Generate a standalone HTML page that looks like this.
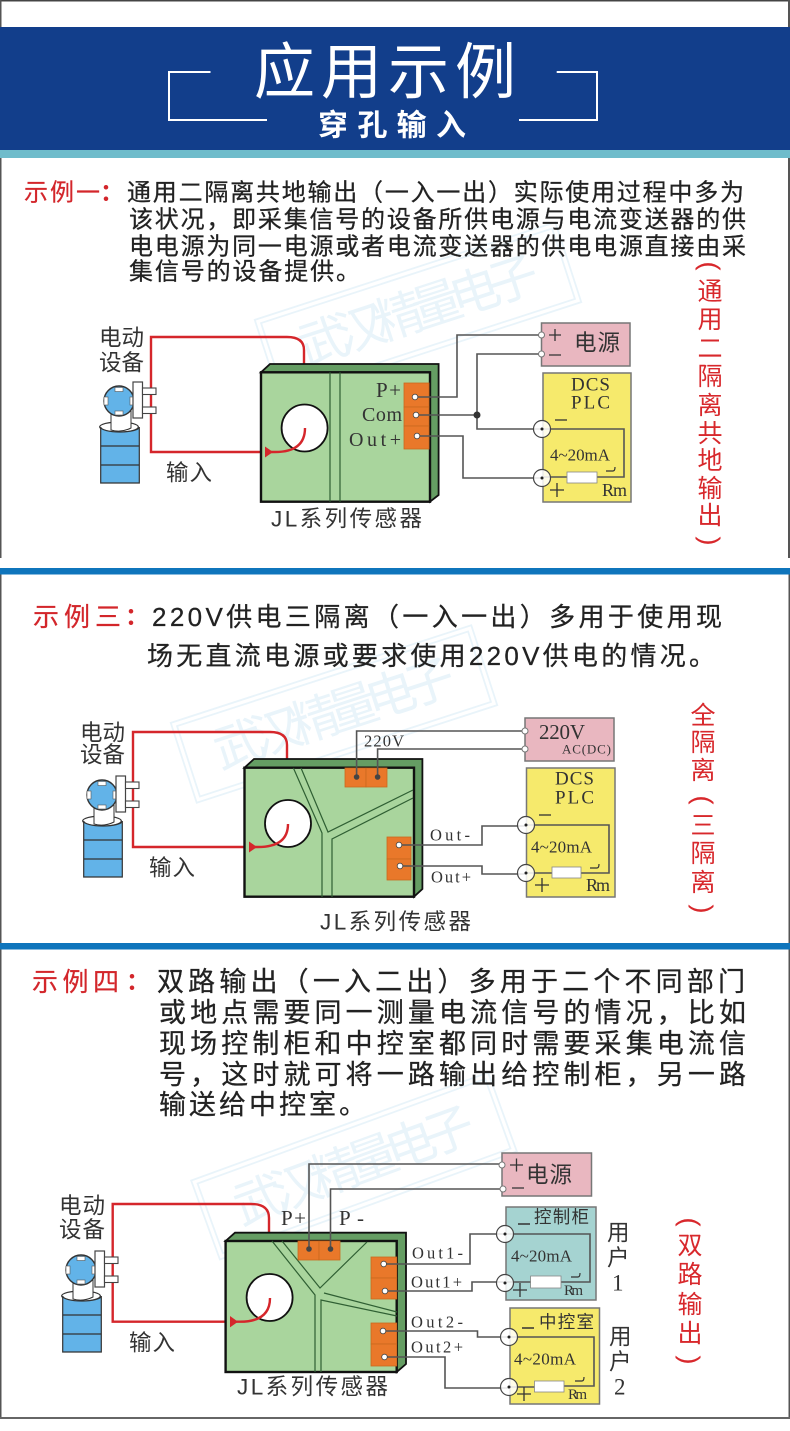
<!DOCTYPE html>
<html><head><meta charset="utf-8"><style>
html,body{margin:0;padding:0;background:#fff}
svg{display:block}
text{font-family:"Liberation Sans","Noto Sans CJK SC",sans-serif;dominant-baseline:central}
.b{fill:#222;stroke:#222;stroke-width:.25;font-size:24px}
.b2{fill:#222;stroke:#222;stroke-width:.25;font-size:26px}
.b3{fill:#222;stroke:#222;stroke-width:.25;font-size:27px}
.r{fill:#d3262b;stroke:#d3262b;stroke-width:.2;font-size:24px}
.r2{fill:#d3262b;stroke:#d3262b;stroke-width:.2;font-size:26px}
.co{fill:#d3262b;font-weight:bold;font-size:24px}
.v{fill:#d8282c;font-size:25px;text-anchor:middle}
.p{fill:#d8282c;font-size:27px;text-anchor:middle;font-family:"Liberation Sans",sans-serif}
.l{fill:#333;font-size:22.5px}
.s{fill:#333;font-family:"Liberation Serif","Noto Sans CJK SC",serif;font-size:19px}
.m{fill:#333;font-family:"Liberation Serif",serif;font-size:17px}
.rm{fill:#333;font-family:"Liberation Serif",serif;font-size:18px}
.x{fill:#333;font-family:"Liberation Serif",serif;font-size:16.500px}
.wm{fill:#e9f4fa;font-size:50px;text-anchor:middle}
.w{fill:none;stroke:#555;stroke-width:1.6}
.red{fill:none;stroke:#d5262b;stroke-width:2.4}
.g{fill:none;stroke:#2f5f33;stroke-width:1.2}
.o{fill:#e9782a;stroke:#c9691f;stroke-width:.8}
.f{fill:#a9d59d;stroke:#111;stroke-width:2.4}
.t{fill:#659d63;stroke:#111;stroke-width:1.8}
.c{fill:#fff;fill-opacity:.85;stroke:#444;stroke-width:1.2}
.box{stroke:#777;stroke-width:1.5}
.frame{fill:none;stroke:#e9f4fa;stroke-width:1.8}
</style></head><body>
<svg width="790" height="1431" viewBox="0 0 790 1431" xmlns="http://www.w3.org/2000/svg">
<defs>
<g id="dev">
<ellipse cx="119" cy="427" rx="19.3" ry="5" fill="#fff" stroke="#333" stroke-width="1.2"/>
<path d="M100.7 427A19.3 5 0 0 0 139.3 427V483H100.7Z" fill="#62b3e8" stroke="#333" stroke-width="1.2"/>
<path d="M100.7 446H139.3M100.7 465H139.3" stroke="#333" stroke-width="1.2"/>
<path d="M111 410H131V428Q121 433 111 430Z" fill="#fff" stroke="#333" stroke-width="1"/>
<circle cx="119" cy="401" r="15" fill="#62b3e8" stroke="#333" stroke-width="1.4"/>
<rect x="115" y="387.500" width="8" height="4" fill="#fff" stroke="#555" stroke-width=".6"/>
<rect x="115" y="411" width="8" height="4" fill="#fff" stroke="#555" stroke-width=".6"/>
<rect x="104" y="397" width="4" height="8" fill="#fff" stroke="#555" stroke-width=".6"/>
<rect x="130" y="397" width="4" height="8" fill="#fff" stroke="#555" stroke-width=".6"/>
<rect x="133" y="382" width="9.500" height="36" fill="#fff" stroke="#444" stroke-width="1.2"/>
<rect x="142.500" y="388" width="13.500" height="6.500" fill="#fff" stroke="#444" stroke-width="1.1"/>
<rect x="142.500" y="407" width="13.500" height="6.500" fill="#fff" stroke="#444" stroke-width="1.1"/>
</g>
</defs>

<rect width="790" height="1431" fill="#fff"/>

<!-- watermarks -->
<g transform="translate(418 311) rotate(-18)"><rect x="-158" y="-42" width="316" height="84" class="frame"/><rect x="-153" y="-37" width="306" height="74" class="frame"/><text class="wm" x="0" y="0" textLength="250">武汉精量电子</text></g>
<g transform="translate(334 714) rotate(-18)"><rect x="-158" y="-42" width="316" height="84" class="frame"/><rect x="-153" y="-37" width="306" height="74" class="frame"/><text class="wm" x="0" y="0" textLength="250">武汉精量电子</text></g>
<g transform="translate(354 1166) rotate(-20)"><rect x="-158" y="-42" width="316" height="84" class="frame"/><rect x="-153" y="-37" width="306" height="74" class="frame"/><text class="wm" x="0" y="0" textLength="252">武汉精量电子</text></g>

<!-- page borders -->
<rect x="0" y="0" width="790" height="1.500" fill="#444"/>
<rect x="0" y="0" width="1.500" height="558" fill="#555"/>
<rect x="788" y="0" width="2" height="558" fill="#555"/>
<rect x="0" y="574" width="1.500" height="845" fill="#555"/>
<rect x="788.500" y="574" width="1.500" height="845" fill="#555"/>
<rect x="0" y="1417" width="790" height="2" fill="#666"/>

<!-- header -->
<rect x="0" y="27" width="790" height="123" fill="#123e8b"/>
<rect x="0" y="150" width="790" height="8" fill="#6fbccb"/>
<path d="M210.500 72H169V120H267M556.700 72H597V120H519" fill="none" stroke="#fff" stroke-width="2"/>
<text x="254" y="72" font-size="61" fill="#fff" textLength="262">应用示例</text>
<text x="318" y="126" font-size="30" font-weight="bold" fill="#fff" textLength="148">穿孔输入</text>

<!-- dividers -->
<rect x="0" y="568" width="790" height="6.500" fill="#0f75bc"/>
<rect x="0" y="943" width="790" height="6.500" fill="#0f75bc"/>

<!-- section 1 text -->
<text class="r" x="24" y="193" textLength="76">示例一</text><text class="co" x="100" y="193">：</text>
<text class="b" x="127" y="193" textLength="617">通用二隔离共地输出（一入一出）实际使用过程中多为</text>
<text class="b" x="129" y="220" textLength="617">该状况，即采集信号的设备所供电源与电流变送器的供</text>
<text class="b" x="129" y="247" textLength="617">电电源为同一电源或者电流变送器的供电电源直接由采</text>
<text class="b" x="129" y="272" textLength="231">集信号的设备提供。</text>

<text class="p" x="710" y="266" transform="rotate(90 710 266)">(</text><text class="v" x="710" y="292">通</text><text class="v" x="710" y="320">用</text><text class="v" x="710" y="349">二</text><text class="v" x="710" y="377">隔</text><text class="v" x="710" y="406">离</text><text class="v" x="710" y="434">共</text><text class="v" x="710" y="461">地</text><text class="v" x="710" y="489">输</text><text class="v" x="710" y="516">出</text><text class="p" x="710" y="541" transform="rotate(90 710 541)">)</text>

<!-- diagram 1 -->
<path class="red" d="M304 364V350Q304 337 287 337H151V452H268"/>
<use href="#dev"/>
<rect class="box" x="541.500" y="323" width="88.500" height="43" fill="#e9b7c0"/>
<rect class="box" x="543" y="373" width="88" height="129" fill="#f6ea6c"/>
<path class="t" d="M261 372.300L270 364H438.600V495L430 501.700V372.300Z"/>
<rect class="f" x="261" y="372.300" width="169" height="129.400"/>
<path class="g" d="M330 372.300V501.700M340 372.300V501.700"/>
<ellipse cx="304.600" cy="428" rx="23" ry="23.500" fill="#fff" stroke="#111" stroke-width="1.8"/>
<path class="red" d="M268 452H275Q305 452 305 428"/>
<path d="M273 452L265 446.500V457.500Z" fill="#d5262b"/>
<rect class="o" x="404" y="383" width="25" height="24"/><rect class="o" x="404" y="407" width="25" height="19"/><rect class="o" x="404" y="426" width="25" height="23"/>
<path class="w" d="M415 397H457V335H541.500M416 415H477M477 415V354H541.500M477 415V429H542M417 436H463V478H542"/>
<path class="w" d="M542 429H624V477H597M567 477H542"/>
<circle cx="477" cy="415" r="3.500" fill="#333"/>
<circle cx="415" cy="397" r="2.800" fill="#fff" stroke="#444" stroke-width=".8"/><circle cx="416" cy="415" r="2.800" fill="#fff" stroke="#444" stroke-width=".8"/><circle cx="417" cy="436" r="2.800" fill="#fff" stroke="#444" stroke-width=".8"/>
<circle cx="541.500" cy="335" r="3" fill="#fff" stroke="#777"/><circle cx="541.500" cy="354" r="3" fill="#fff" stroke="#777"/>
<ellipse class="c" cx="542" cy="429" rx="8.500" ry="8.500"/><ellipse class="c" cx="542" cy="478" rx="8.500" ry="8.500"/><circle cx="542" cy="429" r="1.500" fill="#222"/><circle cx="542" cy="478" r="1.500" fill="#222"/>
<rect x="567" y="472" width="30" height="11" fill="#fff" stroke="#888" stroke-width=".8"/>
<path d="M606 471H613Q615 471 615 467" fill="none" stroke="#333" stroke-width="1.200"/>
<text class="l" x="99" y="338" textLength="45">电动</text><text class="l" x="99" y="363" textLength="45">设备</text>
<text class="l" x="166" y="473" textLength="46">输入</text>
<text class="l" x="271" y="519" textLength="151">JL系列传感器</text>
<text class="s" x="376" y="390" textLength="25" style="font-size:21px">P+</text><text class="s" x="362" y="415" textLength="40" style="font-size:20px">Com</text><text class="s" x="349" y="440" textLength="52" style="font-size:20px">Out+</text>
<text class="l" x="574" y="343" textLength="46">电源</text>
<path d="M549 335H561M555 329V341M549 355H561" stroke="#333" stroke-width="1.300"/>
<text class="s" x="571" y="385" textLength="39">DCS</text><text class="s" x="571" y="403" textLength="39">PLC</text>
<path d="M555 420H567" stroke="#333" stroke-width="1.300"/>
<text class="m" x="550" y="455" textLength="60">4~20mA</text>
<path d="M550 490H564M557 483V497" stroke="#333" stroke-width="1.300"/>
<text class="rm" x="602" y="490" textLength="25">Rm</text>

<!-- section 2 text -->
<text class="r2" x="33" y="617" textLength="88">示例三</text><text class="co" x="125" y="617">：</text>
<text class="b2" x="152" y="617" textLength="570">220V供电三隔离（一入一出）多用于使用现</text>
<text class="b2" x="147" y="656" textLength="568">场无直流电源或要求使用220V供电的情况。</text>

<text class="v" x="703" y="716">全</text><text class="v" x="703" y="743">隔</text><text class="v" x="703" y="771">离</text><text class="p" x="703" y="800" transform="rotate(90 703 800)">(</text><text class="v" x="703" y="826">三</text><text class="v" x="703" y="854">隔</text><text class="v" x="703" y="883">离</text><text class="p" x="703" y="909" transform="rotate(90 703 909)">)</text>

<!-- diagram 2 -->
<path class="red" d="M287 759V745Q287 732 270 732H133V847H250"/>
<use href="#dev" transform="translate(-17 394)"/>
<rect class="box" x="525" y="718" width="89" height="43" fill="#e9b7c0"/>
<rect class="box" x="526.500" y="768" width="88.500" height="129" fill="#f6ea6c"/>
<path class="t" d="M244.500 767.700L254 759H422.400V889L414 896.700V767.700Z"/>
<rect class="f" x="244.500" y="767.700" width="169.500" height="129"/>
<path class="g" d="M293.400 768L322 833V897M301 768L328 832L413 790M332 897V839L413 798"/>
<ellipse cx="288" cy="823.500" rx="23" ry="23.500" fill="#fff" stroke="#111" stroke-width="1.8"/>
<path class="red" d="M250 847H258Q288 847 288 824"/>
<path d="M257 847L249 841.500V852.500Z" fill="#d5262b"/>
<rect class="o" x="345" y="768" width="21" height="19"/><rect class="o" x="366" y="768" width="21" height="19"/>
<rect class="o" x="387" y="837" width="24" height="22"/><rect class="o" x="387" y="859" width="24" height="21"/>
<path class="w" d="M356.600 777V731H525M377.600 777V749H525M399 845H482V826H526M400 866H482V874H526"/>
<path class="w" d="M526 825H609V873H581M552 873H526"/>
<circle cx="356.600" cy="777" r="2.800" fill="#444"/><circle cx="377.600" cy="777" r="2.800" fill="#444"/>
<circle cx="399" cy="845" r="2.800" fill="#fff" stroke="#444" stroke-width=".8"/><circle cx="400" cy="866" r="2.800" fill="#fff" stroke="#444" stroke-width=".8"/>
<circle cx="525" cy="731" r="3" fill="#fff" stroke="#777"/><circle cx="525" cy="749" r="3" fill="#fff" stroke="#777"/>
<ellipse class="c" cx="526" cy="825" rx="8.500" ry="8.500"/><ellipse class="c" cx="526" cy="873" rx="8.500" ry="8.500"/><circle cx="526" cy="825" r="1.500" fill="#222"/><circle cx="526" cy="873" r="1.500" fill="#222"/>
<rect x="552" y="867" width="29" height="11" fill="#fff" stroke="#888" stroke-width=".8"/>
<path d="M590 868H597Q599 868 599 864" fill="none" stroke="#333" stroke-width="1.200"/>
<text class="l" x="80" y="733" textLength="45">电动</text><text class="l" x="80" y="755" textLength="45">设备</text>
<text class="l" x="149" y="868" textLength="46">输入</text>
<text class="l" x="320" y="922" textLength="151">JL系列传感器</text>
<text class="x" x="364" y="741" textLength="40">220V</text>
<text class="s" x="539" y="732" textLength="46" style="font-size:21px">220V</text>
<text class="x" x="562" y="749" textLength="49" style="font-size:13px">AC(DC)</text>
<text class="x" x="430" y="835" textLength="40">Out-</text><text class="x" x="431" y="877" textLength="40">Out+</text>
<text class="s" x="555" y="779" textLength="39">DCS</text><text class="s" x="555" y="798" textLength="39">PLC</text>
<path d="M539 815H551" stroke="#333" stroke-width="1.300"/>
<text class="m" x="531" y="847" textLength="61">4~20mA</text>
<path d="M535 885H549M542 878V892" stroke="#333" stroke-width="1.300"/>
<text class="rm" x="586" y="885" textLength="24">Rm</text>

<!-- section 3 text -->
<text class="r2" x="32" y="982" textLength="87">示例四</text><text class="co" x="126" y="982">：</text>
<text class="b3" x="157" y="982" textLength="588">双路输出（一入二出）多用于二个不同部门</text>
<text class="b3" x="159" y="1013" textLength="587">或地点需要同一测量电流信号的情况，比如</text>
<text class="b3" x="159" y="1044" textLength="587">现场控制柜和中控室都同时需要采集电流信</text>
<text class="b3" x="159" y="1075" textLength="587">号，这时就可将一路输出给控制柜，另一路</text>
<text class="b3" x="159" y="1105" textLength="207">输送给中控室。</text>

<text class="p" x="690" y="1222" transform="rotate(90 690 1222)">(</text><text class="v" x="690" y="1246">双</text><text class="v" x="690" y="1275">路</text><text class="v" x="690" y="1305">输</text><text class="v" x="690" y="1334">出</text><text class="p" x="690" y="1360" transform="rotate(90 690 1360)">)</text>

<!-- diagram 3 -->
<path class="red" d="M269 1233V1218Q269 1204 251 1204H112.700V1321.700H231"/>
<use href="#dev" transform="translate(-38 869)"/>
<rect class="box" x="502" y="1153" width="89.500" height="43" fill="#e9b7c0"/>
<rect class="box" x="506" y="1207" width="90" height="93" fill="#a5d3d1"/>
<rect class="box" x="510" y="1308" width="89.500" height="96" fill="#f6ea6c"/>
<path class="t" d="M225.600 1241L235 1232.700H406V1364L396.700 1372V1241Z"/>
<rect class="f" x="225.600" y="1241" width="171.100" height="131"/>
<path class="g" d="M272 1241L315 1295V1372M282 1241L320 1288L367 1242M324 1293L397 1312M321 1372V1300L397 1316"/>
<ellipse cx="269.600" cy="1297.500" rx="23" ry="23.500" fill="#fff" stroke="#111" stroke-width="1.800"/>
<path class="red" d="M231 1321.700H240Q270 1321.700 270 1298"/>
<path d="M238 1321.700L230 1316V1327.400Z" fill="#d5262b"/>
<rect class="o" x="298" y="1241" width="21" height="19"/><rect class="o" x="319" y="1241" width="21" height="19"/>
<rect class="o" x="371" y="1257" width="25.700" height="21"/><rect class="o" x="371" y="1278" width="25.700" height="21"/>
<rect class="o" x="371" y="1323" width="25.700" height="21"/><rect class="o" x="371" y="1344" width="25.700" height="22"/>
<path class="w" d="M309 1249V1164H502M330.500 1249V1189H502"/>
<path class="w" d="M383.700 1264H470V1234H505M385 1291H472V1282H505M383 1331H477.500V1337H509M384.500 1357H445V1388H509"/>
<path class="w" d="M505 1234H590V1282H561M530.600 1282H505M509 1337H594V1386H564M534.500 1387H509"/>
<circle cx="309" cy="1249" r="2.800" fill="#444"/><circle cx="330.500" cy="1249" r="2.800" fill="#444"/>
<circle cx="383.700" cy="1264" r="2.800" fill="#fff" stroke="#444" stroke-width=".8"/><circle cx="385" cy="1291" r="2.800" fill="#fff" stroke="#444" stroke-width=".8"/><circle cx="383" cy="1331" r="2.800" fill="#fff" stroke="#444" stroke-width=".8"/><circle cx="384.500" cy="1357" r="2.800" fill="#fff" stroke="#444" stroke-width=".8"/>
<circle cx="502" cy="1165" r="3" fill="#fff" stroke="#777"/><circle cx="503" cy="1189" r="3" fill="#fff" stroke="#777"/>
<ellipse class="c" cx="505" cy="1234" rx="8.500" ry="8.500"/><ellipse class="c" cx="505" cy="1283" rx="8.500" ry="8.500"/><ellipse class="c" cx="509" cy="1337" rx="8.500" ry="8.500"/><ellipse class="c" cx="509" cy="1387" rx="8.500" ry="8.500"/>
<circle cx="505" cy="1234" r="1.500" fill="#222"/><circle cx="505" cy="1283" r="1.500" fill="#222"/><circle cx="509" cy="1337" r="1.500" fill="#222"/><circle cx="509" cy="1387" r="1.500" fill="#222"/>
<rect x="530.600" y="1276" width="30.400" height="12" fill="#fff" stroke="#888" stroke-width=".8"/>
<rect x="534.500" y="1381" width="29.500" height="11" fill="#fff" stroke="#888" stroke-width=".8"/>
<path d="M571 1277H578Q580 1277 580 1273" fill="none" stroke="#333" stroke-width="1.200"/>
<path d="M575 1381H582Q584 1381 584 1377" fill="none" stroke="#333" stroke-width="1.200"/>
<text class="l" x="59" y="1206" textLength="46">电动</text><text class="l" x="59" y="1230" textLength="46">设备</text>
<text class="l" x="129" y="1343" textLength="46">输入</text>
<text class="l" x="237" y="1387" textLength="151">JL系列传感器</text>
<text class="s" x="281" y="1218" textLength="25" style="font-size:21px">P+</text><text class="s" x="339" y="1218" textLength="25" style="font-size:21px">P-</text>
<text class="x" x="412" y="1253" textLength="51">Out1-</text><text class="x" x="411" y="1282" textLength="51">Out1+</text><text class="x" x="411" y="1322" textLength="52">Out2-</text><text class="x" x="411" y="1347" textLength="52">Out2+</text>
<path d="M510 1165H523M516.500 1158.500V1171.500M512 1188H524" stroke="#333" stroke-width="1.300"/>
<text class="l" x="526" y="1175" textLength="46">电源</text>
<path d="M518 1224H530M522 1328H534" stroke="#333" stroke-width="1.500"/>
<text class="l" x="534" y="1217" textLength="55" style="font-size:17.500px">控制柜</text>
<text class="l" x="539" y="1322" textLength="55" style="font-size:17.500px">中控室</text>
<text class="m" x="511" y="1256" textLength="61">4~20mA</text>
<text class="m" x="514" y="1359" textLength="62">4~20mA</text>
<path d="M513 1290H527M520 1283V1297M517 1394H531M524 1387V1401" stroke="#333" stroke-width="1.300"/>
<text class="rm" x="564" y="1291" textLength="19" style="font-size:15px">Rm</text><text class="rm" x="568" y="1395" textLength="19" style="font-size:15px">Rm</text>
<text class="l" x="607" y="1233">用</text><text class="l" x="607" y="1258">户</text><text class="s" x="612" y="1283" style="font-size:23px">1</text>
<text class="l" x="609" y="1337">用</text><text class="l" x="609" y="1362">户</text><text class="s" x="614" y="1387" style="font-size:23px">2</text>
</svg>
</body></html>
